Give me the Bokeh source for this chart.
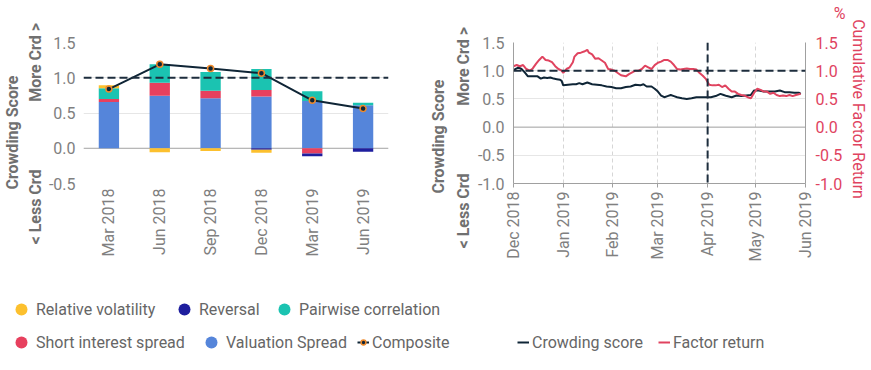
import math
import datetime as dt
import pandas as pd
from bokeh.plotting import figure
from bokeh.layouts import row, column
from bokeh.models import (Range1d, LinearAxis, SingleIntervalTicker, Span, Legend,
                          LegendItem, ColumnDataSource, MonthsTicker, DatetimeTickFormatter,
                          CustomJSTickFormatter, Title)
from bokeh.embed import file_html
from bokeh.resources import INLINE

# ---------------- data: left chart (crowding score decomposition) ----------------
quarters = ["Mar 2018", "Jun 2018", "Sep 2018", "Dec 2018", "Mar 2019", "Jun 2019"]
relative_volatility = [0.045, -0.055, -0.04, -0.045, 0.0, 0.0]
reversal = [0.0, 0.0, 0.0, -0.02, -0.04, -0.05]
pairwise_correlation = [0.15, 0.26, 0.265, 0.30, 0.14, 0.035]
short_interest_spread = [0.045, 0.185, 0.105, 0.09, -0.075, 0.0]
valuation_spread = [0.655, 0.745, 0.71, 0.735, 0.67, 0.61]
composite = [0.84, 1.19, 1.13, 1.065, 0.68, 0.563]

# ---------------- data: right chart (daily series, days since 2018-12-01) ----------------
series_start = "2018-12-01"
crowd_day = [0, 2, 3, 5, 7, 9, 11, 13, 15, 17,
             19, 21, 23, 25, 27, 29, 30, 31, 34, 37,
             39, 41, 43, 46, 49, 52, 55, 58, 61, 64,
             67, 70, 73, 76, 79, 81, 83, 86, 88, 90,
             92, 94, 96, 98, 100, 102, 105, 108, 111, 114,
             117, 120, 123, 126, 129, 131, 133, 136, 139, 142,
             145, 148, 150, 153, 156, 160, 163, 166, 169, 172,
             175, 178, 179]
crowd_score = [1.01, 1.04, 1.06, 1.03, 0.97, 0.90, 0.90, 0.90, 0.90, 0.86,
               0.88, 0.87, 0.88, 0.86, 0.85, 0.84, 0.82, 0.74, 0.75, 0.76,
               0.76, 0.78, 0.76, 0.79, 0.76, 0.75, 0.74, 0.72, 0.71, 0.69,
               0.69, 0.71, 0.72, 0.75, 0.74, 0.76, 0.72, 0.72, 0.68, 0.63,
               0.56, 0.53, 0.55, 0.57, 0.55, 0.53, 0.51, 0.50, 0.51, 0.53,
               0.53, 0.53, 0.53, 0.55, 0.59, 0.57, 0.55, 0.53, 0.56, 0.55,
               0.56, 0.57, 0.65, 0.65, 0.63, 0.63, 0.63, 0.65, 0.62, 0.62,
               0.61, 0.61, 0.59]
factor_day = [0, 2, 4, 6, 8, 10, 12, 14, 16, 18,
              20, 22, 24, 26, 28, 30, 31, 33, 35, 37,
              38, 40, 42, 44, 46, 47, 49, 51, 53, 55,
              57, 59, 61, 63, 65, 67, 70, 72, 74, 76,
              78, 80, 82, 84, 86, 88, 90, 92, 94, 96,
              98, 100, 102, 104, 106, 108, 110, 112, 114, 116,
              118, 120, 122, 124, 126, 128, 130, 132, 134, 136,
              138, 140, 142, 144, 146, 148, 150, 152, 154, 156,
              158, 160, 162, 164, 166, 168, 170, 172, 174, 176,
              179]
factor_return = [1.08, 1.10, 1.08, 1.10, 1.03, 1.00, 1.04, 1.12, 1.19, 1.25,
                 1.19, 1.18, 1.15, 1.08, 1.03, 1.00, 0.96, 1.03, 1.06, 1.15,
                 1.25, 1.31, 1.32, 1.34, 1.37, 1.32, 1.29, 1.21, 1.22, 1.18,
                 1.14, 1.03, 1.02, 1.00, 0.96, 0.92, 0.90, 0.94, 0.97, 1.00,
                 1.00, 1.03, 1.09, 1.06, 1.03, 1.10, 1.14, 1.16, 1.19, 1.19,
                 1.16, 1.10, 1.03, 1.02, 1.03, 1.04, 1.03, 1.03, 1.02, 0.96,
                 0.91, 0.85, 0.75, 0.74, 0.74, 0.75, 0.71, 0.74, 0.68, 0.63,
                 0.63, 0.59, 0.57, 0.56, 0.53, 0.51, 0.61, 0.68, 0.66, 0.63,
                 0.63, 0.59, 0.61, 0.57, 0.55, 0.56, 0.55, 0.57, 0.55, 0.57,
                 0.59]
threshold = 1.0
event_date = dt.datetime(2019, 4, 1)
x_start, x_end = dt.datetime(2018, 12, 1), dt.datetime(2019, 6, 1)

# ---------------- style ----------------
FONT = "Roboto"
YELLOW, NAVY, TEAL, RED, BLUE = "#FCC02E", "#1E1E9E", "#1BC3B1", "#E7405E", "#5585DA"
DARK = "#0F2536"
ORANGE = "#EE8A2C"
PINK = "#E0435F"
TICK_GRAY = "#808080"
LABEL_GRAY = "#707070"
GRID = "#E6E6E6"
ROW_H = 290
NB = "\u00a0"

fmt1 = CustomJSTickFormatter(code="return tick.toFixed(1);")


def style_axis(ax, standoff):
    ax.axis_line_color = None
    ax.major_tick_line_color = None
    ax.minor_tick_line_color = None
    ax.major_tick_out = 0
    ax.major_tick_in = 0
    ax.minor_tick_out = 0
    ax.major_label_standoff = standoff
    ax.major_label_text_font = FONT
    ax.major_label_text_font_size = "16px"
    ax.major_label_text_color = TICK_GRAY


def side_title(p, text, offset, standoff):
    # vertical axis title placed in the left side panel, starting `offset` px from frame bottom
    p.add_layout(Title(text=text, align="left", offset=offset, standoff=standoff,
                       vertical_align="bottom", text_font=FONT, text_font_size="16px",
                       text_font_style="bold", text_color=LABEL_GRAY), "left")


def add_legend(p, label, renderers, x, y, glyph_w, standoff):
    p.add_layout(Legend(items=[LegendItem(label=label, renderers=renderers)], location=(x, y),
                        orientation="horizontal", glyph_width=glyph_w, glyph_height=30,
                        label_standoff=standoff, padding=0, margin=0, spacing=0,
                        border_line_color=None, background_fill_alpha=0,
                        label_text_font=FONT, label_text_font_size="16px",
                        label_text_color="#666666"))


crd_text = "< Less Crd" + NB * 17 + "More Crd >"

# ---------------- left chart ----------------
p1 = figure(x_range=quarters, y_range=Range1d(-0.5, 1.5), width=424, height=ROW_H, title=None,
            output_backend="svg", toolbar_location=None,
            min_border_left=76, min_border_right=36, min_border_top=42, min_border_bottom=103)
p1.outline_line_color = None
p1.xgrid.visible = False
p1.ygrid.grid_line_color = GRID
p1.yaxis.ticker = SingleIntervalTicker(interval=0.5)
p1.yaxis.formatter = fmt1
style_axis(p1.xaxis[0], 5)
style_axis(p1.yaxis[0], 8)
p1.xaxis.major_label_orientation = math.pi / 2
side_title(p1, crd_text, -61, 2)
side_title(p1, "Crowding Score", -6, 1)

p1.add_layout(Span(location=0, dimension="width", line_color="#A8A8A8", line_width=1,
                   level="underlay"))

# stacking from zero outwards (positive and negative parts separately)
stack = [("Valuation Spread", valuation_spread, BLUE),
         ("Short interest spread", short_interest_spread, RED),
         ("Pairwise correlation", pairwise_correlation, TEAL),
         ("Reversal", reversal, NAVY),
         ("Relative volatility", relative_volatility, YELLOW)]
pos = [0.0] * len(quarters)
neg = [0.0] * len(quarters)
for name, vals, color in stack:
    bottoms, tops = [], []
    for i, v in enumerate(vals):
        if v >= 0:
            bottoms.append(pos[i]); tops.append(pos[i] + v); pos[i] += v
        else:
            tops.append(neg[i]); bottoms.append(neg[i] + v); neg[i] += v
    src = ColumnDataSource(dict(x=quarters, bottom=bottoms, top=tops))
    p1.vbar(x="x", bottom="bottom", top="top", width=0.4, source=src,
            fill_color=color, line_color=None)

p1.line(x=quarters, y=composite, line_color=DARK, line_width=2)
p1.scatter(x=quarters, y=composite, size=6, marker="circle", fill_color=DARK,
           line_color=ORANGE, line_width=1.5)
p1.add_layout(Span(location=threshold, dimension="width", line_color="#1D2D3D",
                   line_dash="8 4", line_width=2))

# ---------------- right chart ----------------
start = pd.Timestamp(series_start)
crowd_dates = start + pd.to_timedelta(crowd_day, unit="D")
factor_dates = start + pd.to_timedelta(factor_day, unit="D")

p2 = figure(x_axis_type="datetime", x_range=Range1d(x_start, x_end), y_range=Range1d(-1, 1.5),
            width=447, height=ROW_H, title=None, output_backend="svg", toolbar_location=None,
            min_border_left=83, min_border_right=64, min_border_top=42, min_border_bottom=107)
p2.outline_line_color = None
p2.extra_y_ranges = {"ret": Range1d(-1, 1.5)}
right_axis = LinearAxis(y_range_name="ret")
p2.add_layout(right_axis, "right")

p2.yaxis.ticker = SingleIntervalTicker(interval=0.5)
p2.yaxis.formatter = fmt1
p2.xaxis.ticker = MonthsTicker(months=list(range(12)))
p2.xaxis.formatter = DatetimeTickFormatter(months="%b %Y", days="%b %Y")
p2.xaxis.major_label_orientation = math.pi / 2
style_axis(p2.xaxis[0], 4)
p2.xaxis[0].major_tick_out = 4
p2.xaxis[0].major_tick_line_color = "#A0A0A0"
p2.xaxis[0].axis_line_color = "#A0A0A0"
left_axis = p2.yaxis[0]
style_axis(left_axis, 9)
left_axis.axis_line_color = "#A0A0A0"
side_title(p2, crd_text, -65, 4)
side_title(p2, "Crowding Score", -10, 4)

style_axis(right_axis, 10)
right_axis.axis_line_color = "#A0A0A0"
right_axis.major_label_text_color = PINK
right_axis.axis_label = "Cumulative Factor Return" + NB * 2
right_axis.axis_label_standoff = 4
right_axis.axis_label_text_font = FONT
right_axis.axis_label_text_font_size = "16px"
right_axis.axis_label_text_font_style = "normal"
right_axis.axis_label_text_color = PINK

p2.add_layout(Title(text="%\n" + NB, align="right", offset=-40, standoff=2,
                    vertical_align="bottom", text_font=FONT, text_font_size="16px",
                    text_font_style="normal", text_color=PINK), "above")

p2.ygrid.grid_line_color = GRID
p2.xgrid.grid_line_color = "#D6D6D6"
p2.xgrid.grid_line_dash = "4 3"

p2.add_layout(Span(location=0, dimension="width", line_color="#A8A8A8", line_width=1,
                   level="underlay"))

p2.line(x=crowd_dates, y=crowd_score, line_color=DARK, line_width=2)
p2.line(x=factor_dates, y=factor_return, line_color=PINK, line_width=2, y_range_name="ret")

p2.add_layout(Span(location=threshold, dimension="width", line_color="#1D2D3D",
                   line_dash="8 4", line_width=2))
p2.add_layout(Span(location=event_date, dimension="height", line_color="#1D2D3D",
                   line_dash="8 4", line_width=2))

# ---------------- legends (strip below both charts) ----------------
leg = figure(width=871, height=80, x_range=Range1d(0, 1), y_range=Range1d(0, 1), title=None,
             x_axis_location=None, y_axis_location=None, output_backend="svg",
             toolbar_location=None, min_border=0)
leg.min_border_left = leg.min_border_right = leg.min_border_top = leg.min_border_bottom = 0
leg.outline_line_color = None
leg.grid.visible = False
off = [-5, -4]  # dummy points kept outside the visible range; only the legend icons show
icons = {}
for name, vals, color in stack:
    icons[name] = leg.scatter(x=off, y=off, marker="circle", fill_color=color, line_color=None)
comp_line = leg.line(x=off, y=off, line_color=DARK, line_width=2)
comp_dots = leg.scatter(x=off, y=off, marker="circle", fill_color=DARK, line_color=ORANGE,
                        line_width=1.5)
crowd_icon = leg.line(x=off, y=off, line_color=DARK, line_width=2)
factor_icon = leg.line(x=off, y=off, line_color=PINK, line_width=2)

add_legend(leg, "Relative volatility", [icons["Relative volatility"]], 6, 46, 30, -7)
add_legend(leg, "Reversal", [icons["Reversal"]], 169, 46, 30, -7)
add_legend(leg, "Pairwise correlation", [icons["Pairwise correlation"]], 269, 46, 30, -7)
add_legend(leg, "Short interest spread", [icons["Short interest spread"]], 6, 13, 30, -7)
add_legend(leg, "Valuation Spread", [icons["Valuation Spread"]], 196, 13, 30, -7)
add_legend(leg, "Composite", [comp_line, comp_dots], 357, 13, 12, 3)
add_legend(leg, "Crowding score", [crowd_icon], 517, 13, 12, 3)
add_legend(leg, "Factor return", [factor_icon], 658, 13, 12, 3)

layout = column(row(p1, p2), leg)
open("out.html", "w").write(file_html(layout, INLINE))
